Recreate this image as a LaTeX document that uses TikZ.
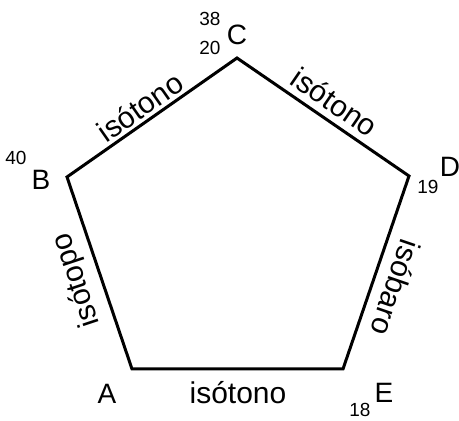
\documentclass[tikz,border=0pt]{standalone}
\usepackage{fontspec}
\setmainfont{Liberation Sans}
\begin{document}
\begin{tikzpicture}[x=1pt,y=1pt,
  edge/.style={line width=3pt, line join=miter},
  lbl/.style={inner sep=0pt, font=\fontsize{30}{34}\selectfont},
  vtx/.style={inner sep=0pt, font=\fontsize{28}{32}\selectfont},
  num/.style={inner sep=0pt, font=\fontsize{19}{22}\selectfont}]
\useasboundingbox (0,0) rectangle (459,421);
\coordinate (C) at (237,363);
\coordinate (D) at (409,245);
\coordinate (E) at (343,52);
\coordinate (A) at (132,52);
\coordinate (B) at (67,244);
\draw[edge] (A) -- (B) -- (C) -- (D) -- (E) -- cycle;
% vertex labels
\node[vtx] (lC) at (237,386) {C};
\node[num] (nC1) at (210,402) {38};
\node[num] (nC2) at (210,373) {20};
\node[vtx] (lB) at (41,241) {B};
\node[num] (nB) at (16,263) {40};
\node[vtx] (lD) at (450,254) {D};
\node[num] (nD) at (428,234) {19};
\node[vtx] (lA) at (107,27) {A};
\node[vtx] (lE) at (384,28) {E};
\node[num] (nE) at (360,11) {18};
% edge labels
\node[lbl, rotate=35] (eBC) at (140,314) {isótono};
\node[lbl, rotate=-34.5] (eCD) at (335,319) {isótono};
\node[lbl, rotate=108.4] (eAB) at (77,141) {isótopo};
\node[lbl, rotate=-108.9] (eDE) at (396,133) {isóbaro};
\node[lbl] (eAE) at (238,28) {isótono};
\end{tikzpicture}
\end{document}
